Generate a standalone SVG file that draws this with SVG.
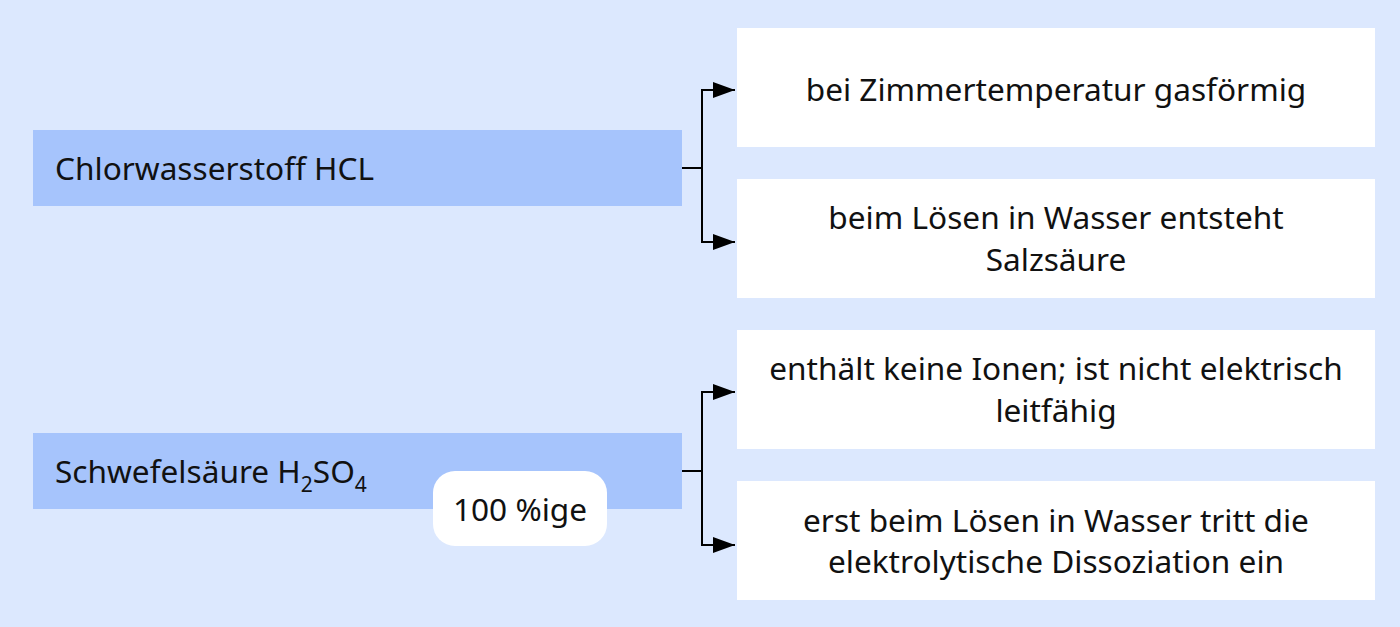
<svg xmlns="http://www.w3.org/2000/svg" width="1400" height="627" viewBox="0 0 1400 627">
<defs>
<style>
.t{font-family:"Noto Sans","Open Sans","Liberation Sans",sans-serif;font-size:31.6px;fill:#111}
.c{text-anchor:middle}
.src{fill:#a6c4fc}
.dst{fill:#ffffff}
.ln{fill:none;stroke:#000;stroke-width:2}
</style>
<marker id="ah" viewBox="0 0 22 16" refX="22" refY="8" markerWidth="22" markerHeight="16" markerUnits="userSpaceOnUse" orient="auto">
<path d="M0,0 L22,8 L0,16 z" fill="#000"/>
</marker>
</defs>
<rect width="1400" height="627" fill="#dce8fe"/>
<g id="n-hcl">
<rect class="src" x="33" y="130" width="649" height="76"/>
<text class="t" x="55" y="180">Chlorwasserstoff HCL</text>
</g>
<g id="n-h2so4">
<rect class="src" x="33" y="433" width="649" height="76"/>
<text class="t" x="55" y="483">Schwefelsäure H<tspan font-size="21" dy="9">2</tspan><tspan dy="-9">SO</tspan><tspan font-size="21" dy="9">4</tspan></text>
</g>
<g id="n-badge">
<rect fill="#fff" x="433" y="471" width="174" height="75" rx="22"/>
<text class="t c" x="520" y="521">100 %ige</text>
</g>
<g id="n-r1">
<rect class="dst" x="737" y="28" width="638" height="119"/>
<text class="t c" x="1056" y="101">bei Zimmertemperatur gasförmig</text>
</g>
<g id="n-r2">
<rect class="dst" x="737" y="179" width="638" height="119"/>
<text class="t c" x="1056" y="229">beim Lösen in Wasser entsteht</text>
<text class="t c" x="1056" y="271">Salzsäure</text>
</g>
<g id="n-r3">
<rect class="dst" x="737" y="330" width="638" height="119"/>
<text class="t c" x="1056" y="380">enthält keine Ionen; ist nicht elektrisch</text>
<text class="t c" x="1056" y="422">leitfähig</text>
</g>
<g id="n-r4">
<rect class="dst" x="737" y="481" width="638" height="119"/>
<text class="t c" x="1056" y="532">erst beim Lösen in Wasser tritt die</text>
<text class="t c" x="1056" y="573">elektrolytische Dissoziation ein</text>
</g>
<g id="connectors">
<path class="ln" d="M682,168 H702"/>
<path class="ln" d="M702,168 V90 H735" marker-end="url(#ah)"/>
<path class="ln" d="M702,168 V242 H735" marker-end="url(#ah)"/>
<path class="ln" d="M682,471 H702"/>
<path class="ln" d="M702,471 V392 H735" marker-end="url(#ah)"/>
<path class="ln" d="M702,471 V545 H735" marker-end="url(#ah)"/>
</g>
</svg>
